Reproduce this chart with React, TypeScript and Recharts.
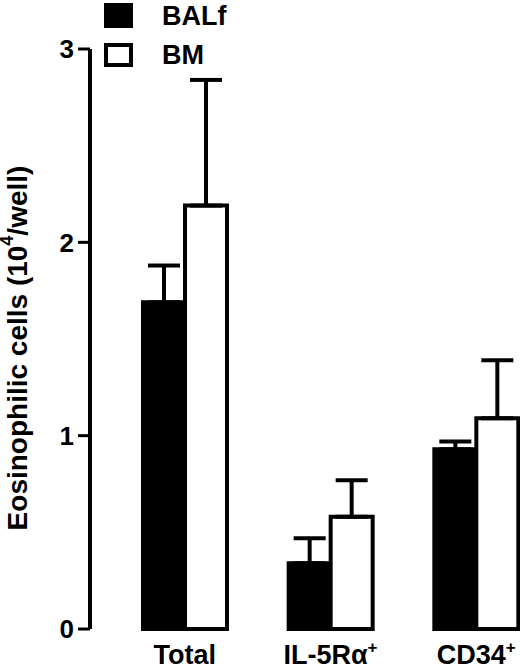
import { Bar, BarChart, ErrorBar, Legend, XAxis, YAxis } from 'recharts';

const categories = ['Total', 'IL-5Rα+', 'CD34+'];
const balf = [1.69, 0.34, 0.93];
const balfErr = [0.19, 0.13, 0.04];
const bm = [2.19, 0.58, 1.09];
const bmErr = [0.65, 0.19, 0.3];
const yTicks = [0, 1, 2, 3];

const data = categories.map((name, i) => ({
  name,
  balf: balf[i],
  balfErr: [0, balfErr[i]],
  bm: bm[i],
  bmErr: [0, bmErr[i]],
}));

const FONT = '"Liberation Sans", Arial, Helvetica, sans-serif';

function CategoryTick(props: any) {
  const { x, y, payload } = props;
  const label: string = payload.value;
  const sup = label.endsWith('+');
  const base = sup ? label.slice(0, -1) : label;
  return (
    <text x={x} y={y} dy={35} textAnchor="middle" fontSize={27} fontWeight="bold" fill="#000" fontFamily={FONT}>
      {base}
      {sup ? (
        <tspan fontSize={17} dy={-11}>
          +
        </tspan>
      ) : null}
    </text>
  );
}

function YTitle(props: any) {
  const vb = props.viewBox;
  const cx = vb.x + 17;
  const cy = vb.y + vb.height / 2 + 9;
  return (
    <text
      x={cx}
      y={cy}
      transform={`rotate(-90, ${cx}, ${cy})`}
      textAnchor="middle"
      dominantBaseline="central"
      fontSize={28}
      fontWeight="bold"
      fill="#000"
      fontFamily={FONT}
    >
      Eosinophilic cells (10
      <tspan fontSize={18} dy={-10}>
        4
      </tspan>
      <tspan dy={10}>/well)</tspan>
    </text>
  );
}

function LegendBox() {
  return (
    <svg width={160} height={70}>
      <rect x={0} y={3} width={29} height={25} fill="#000" />
      <text x={58} y={25} fontSize={27} fontWeight="bold" fill="#000" fontFamily={FONT}>
        BALf
      </text>
      <rect x={2} y={45} width={25} height={20} fill="#fff" stroke="#000" strokeWidth={4} />
      <text x={58} y={64} fontSize={27} fontWeight="bold" fill="#000" fontFamily={FONT}>
        BM
      </text>
    </svg>
  );
}

export default function App() {
  return (
    <div style={{ position: 'absolute', left: 0, top: 0, width: 520, height: 667, overflow: 'hidden', background: '#fff' }}>
      <BarChart
        width={560}
        height={667}
        data={data}
        margin={{ top: 49, right: 11, bottom: 0, left: 0 }}
        barCategoryGap={31}
        barGap={0}
      >
        <XAxis
          dataKey="name"
          axisLine={false}
          tickLine={false}
          tickSize={0}
          tickMargin={0}
          height={38}
          padding={{ left: 22, right: 0 }}
          tick={<CategoryTick />}
          interval={0}
        />
        <YAxis
          domain={[0, 3]}
          ticks={yTicks}
          width={90}
          axisLine={{ stroke: '#000', strokeWidth: 4 }}
          tickLine={{ stroke: '#000', strokeWidth: 3 }}
          tickSize={12}
          tickMargin={4}
          tick={{ fontSize: 26, fontWeight: 'bold', fill: '#000', fontFamily: FONT }}
          label={{ content: <YTitle /> }}
        />
        <Legend
          layout="horizontal"
          verticalAlign="middle"
          align="center"
          wrapperStyle={{ top: 0, left: 104, width: 160, height: 70 }}
          content={() => <LegendBox />}
        />
        <Bar dataKey="balf" name="BALf" fill="#000" stroke="#000" strokeWidth={4} isAnimationActive={false}>
          <ErrorBar dataKey="balfErr" width={16} stroke="#000" strokeWidth={4} isAnimationActive={false} />
        </Bar>
        <Bar dataKey="bm" name="BM" fill="#fff" stroke="#000" strokeWidth={4} isAnimationActive={false}>
          <ErrorBar dataKey="bmErr" width={16} stroke="#000" strokeWidth={4} isAnimationActive={false} />
        </Bar>
      </BarChart>
    </div>
  );
}
